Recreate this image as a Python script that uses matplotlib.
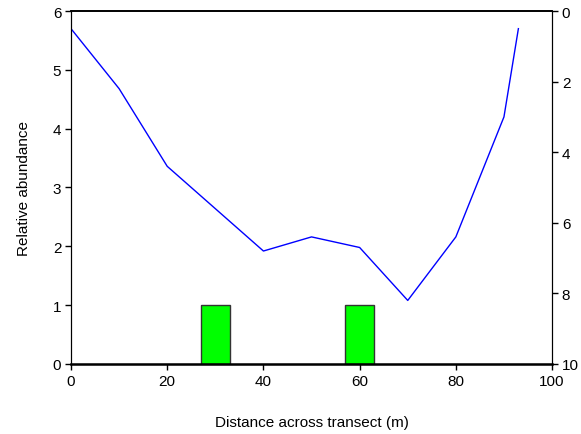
import matplotlib
matplotlib.use("Agg")
import matplotlib.pyplot as plt

plt.rcParams["font.family"] = ["Liberation Sans", "DejaVu Sans"]

# relative abundance bars
bar_x = [30, 60]
bar_h = [1, 1]

# depth profile on the inverted right axis
dist = [0, 10, 20, 40, 50, 60, 70, 80, 90, 93]
depth = [0.5, 2.2, 4.4, 6.8, 6.4, 6.7, 8.2, 6.4, 3.0, 0.5]

fs = 11

fig = plt.figure(figsize=(5.81, 4.35), dpi=100)
ax = fig.add_axes([0.1222, 0.161, 0.828, 0.8114])

ax.bar(bar_x, bar_h, width=6, color="#00ff00", edgecolor="#333333", linewidth=1.0, zorder=2)
ax.set_xlim(0, 100)
ax.set_ylim(0, 6)
ax.set_xticks(range(0, 101, 20))
ax.set_yticks(range(0, 7))
ax.tick_params(direction="out", length=4, width=1, labelsize=fs, pad=3)
ax.set_xlabel("Distance across transect (m)", fontsize=fs, labelpad=20)
ax.set_ylabel("Relative abundance", fontsize=fs, labelpad=16)
ax.spines["bottom"].set_linewidth(1.8)

ax2 = ax.twinx()
ax2.plot(dist, depth, color="blue", lw=1.0)
ax2.set_ylim(10, 0)
ax2.set_yticks(range(0, 11, 2))
ax2.tick_params(direction="out", length=4, width=1, labelsize=fs, pad=3)

for a in (ax, ax2):
    a.spines["top"].set_linewidth(1.2)

fig.savefig("out.png", dpi=100)
